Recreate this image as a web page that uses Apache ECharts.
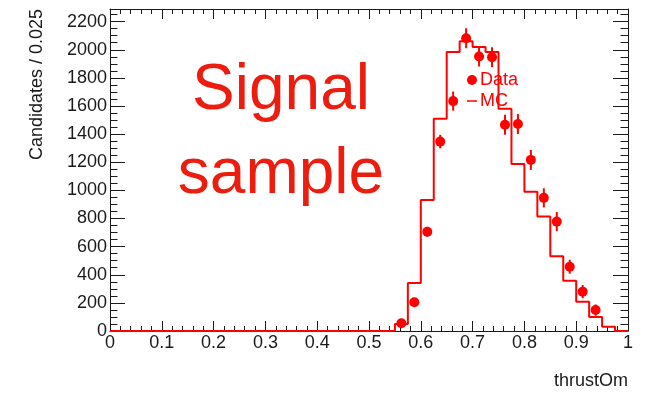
<!DOCTYPE html>
<html>
<head>
<meta charset="utf-8">
<script src="https://cdn.jsdelivr.net/npm/echarts@6/dist/echarts.min.js"></script>
<style>
  html, body { margin: 0; padding: 0; background: #fff; }
  #chart { width: 648px; height: 393px; }
</style>
</head>
<body>
<div id="chart"></div>
<script>
// Binning of the thrustOm histogram
const binWidth = 0.025;
const nBins = 40;

// MC expectation per bin (bins 0.000 .. 0.975)
const mcCounts = [
  0, 0, 0, 0, 0, 0, 0, 0, 0, 0,
  0, 0, 0, 0, 0, 0, 0, 0, 0, 0,
  0, 0, 50, 342, 932, 1509, 1985, 2060, 2020, 1985,
  1580, 1188, 991, 814, 532, 357, 208, 100, 31, 0
];

// Data points: bin centres, counts and errors
const dataCenters = [0.5625, 0.5875, 0.6125, 0.6375, 0.6625, 0.6875, 0.7125, 0.7375,
                     0.7625, 0.7875, 0.8125, 0.8375, 0.8625, 0.8875, 0.9125, 0.9375];
const dataCounts  = [55, 204, 706, 1347, 1635, 2082, 1952, 1947,
                     1467, 1472, 1217, 947, 778, 457, 280, 149];
const dataErrors  = [18, 28, 35, 48, 68, 71, 71, 71,
                     71, 71, 71, 68, 68, 50, 47, 40];

// Axis ticks
const xTickInterval = 0.1;
const yTickInterval = 200;
const yMax = 2290;

const RED = '#ff0000';
const FONT = '"Liberation Sans", Arial, Helvetica, sans-serif';
const INK = '#1a1a1a';

// Step outline: one point per lower bin edge plus the closing edge
const mcStep = [];
for (let i = 0; i < nBins; i++) mcStep.push([i * binWidth, mcCounts[i]]);
mcStep.push([nBins * binWidth, mcCounts[nBins - 1]]);

const dataPoints = dataCenters.map((x, i) => [x, dataCounts[i], dataErrors[i]]);

const chart = echarts.init(document.getElementById('chart'), null, { renderer: 'canvas' });

function xAxisCfg(pos, showLabels) {
  return {
    type: 'value', position: pos, min: 0, max: 1, interval: xTickInterval,
    axisLine: { show: true, onZero: false, lineStyle: { color: INK, width: 1 } },
    axisTick: { show: true, inside: true, length: 10, lineStyle: { color: INK } },
    minorTick: { show: true, splitNumber: 5, length: 5, lineStyle: { color: INK } },
    splitLine: { show: false },
    axisLabel: { show: showLabels, margin: 3, fontSize: 18, fontFamily: FONT, color: INK,
                 showMinLabel: true, showMaxLabel: true,
                 formatter: v => String(Math.round(v * 10) / 10) }
  };
}
function yAxisCfg(pos, showLabels) {
  return {
    type: 'value', position: pos, min: 0, max: yMax, interval: yTickInterval,
    axisLine: { show: true, onZero: false, lineStyle: { color: INK, width: 1 } },
    axisTick: { show: true, inside: true, length: 15, lineStyle: { color: INK } },
    minorTick: { show: true, splitNumber: 4, length: 7.5, lineStyle: { color: INK } },
    splitLine: { show: false },
    axisLabel: { show: showLabels, margin: 3, fontSize: 18, fontFamily: FONT, color: INK,
                 showMaxLabel: false, formatter: v => String(v) }
  };
}

chart.setOption({
  animation: false,
  backgroundColor: '#fff',
  grid: { left: 110, right: 20, top: 9, bottom: 62, containLabel: false, outerBoundsMode: 'none' },
  xAxis: [xAxisCfg('bottom', true), xAxisCfg('top', false)],
  yAxis: [yAxisCfg('left', true), yAxisCfg('right', false)],
  legend: {
    show: true, orient: 'vertical', left: 462, top: 66,
    itemWidth: 10, itemHeight: 10, itemGap: 3,
    textStyle: { color: RED, fontSize: 18, fontFamily: FONT, padding: [0, 0, 0, -2] },
    data: [
      { name: 'Data', icon: 'circle' },
      { name: 'MC', icon: 'path://M0,0 H10 V1.5 H0 Z' }
    ]
  },
  graphic: [
    {
      type: 'text', x: 37, y: 9, rotation: Math.PI / 2,
      style: { text: 'Candidates / 0.025', font: '18px ' + FONT, fill: INK,
               textAlign: 'right', textVerticalAlign: 'middle' }
    },
    {
      type: 'text', x: 628, y: 381,
      style: { text: 'thrustOm', font: '18px ' + FONT, fill: INK,
               textAlign: 'right', textVerticalAlign: 'middle' }
    },
    {
      type: 'text', x: 281, y: 59,
      style: { text: 'Signal', font: '64px ' + FONT, fill: '#ec1d0e',
               textAlign: 'center', textVerticalAlign: 'top' }
    },
    {
      type: 'text', x: 281, y: 143,
      style: { text: 'sample', font: '64px ' + FONT, fill: '#ec1d0e',
               textAlign: 'center', textVerticalAlign: 'top' }
    }
  ],
  series: [
    {
      name: 'MC', type: 'line', step: 'end', data: mcStep,
      xAxisIndex: 0, yAxisIndex: 0,
      showSymbol: false, symbol: 'none',
      lineStyle: { color: RED, width: 2 },
      itemStyle: { color: RED },
      z: 3
    },
    {
      name: 'Data', type: 'custom', data: dataPoints,
      xAxisIndex: 0, yAxisIndex: 0,
      itemStyle: { color: RED },
      encode: { x: 0, y: 1 },
      renderItem: function (params, api) {
        const x = api.value(0), y = api.value(1), e = api.value(2);
        const c = api.coord([x, y]);
        const lo = api.coord([x, y - e]);
        const hi = api.coord([x, y + e]);
        return {
          type: 'group',
          children: [
            { type: 'line', shape: { x1: c[0], y1: lo[1], x2: c[0], y2: hi[1] },
              style: { stroke: RED, lineWidth: 2 } },
            { type: 'circle', shape: { cx: c[0], cy: c[1], r: 5 },
              style: { fill: RED } }
          ]
        };
      },
      z: 4
    }
  ]
});
</script>
</body>
</html>
